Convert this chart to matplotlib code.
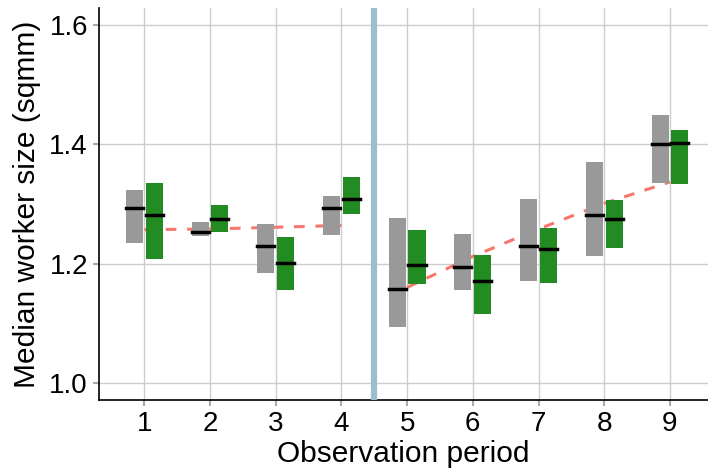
import matplotlib.pyplot as plt

# data
periods = [1, 2, 3, 4, 5, 6, 7, 8, 9]

# grey bars (first group): low, high, median
grey_low = [1.234, 1.246, 1.185, 1.248, 1.094, 1.155, 1.170, 1.212, 1.335]
grey_high = [1.324, 1.269, 1.267, 1.314, 1.277, 1.249, 1.308, 1.371, 1.450]
grey_med = [1.294, 1.253, 1.229, 1.293, 1.157, 1.194, 1.229, 1.282, 1.400]

# green bars (second group): low, high, median
green_low = [1.207, 1.253, 1.155, 1.283, 1.165, 1.115, 1.167, 1.226, 1.333]
green_high = [1.336, 1.299, 1.244, 1.345, 1.257, 1.215, 1.259, 1.306, 1.424]
green_med = [1.281, 1.274, 1.201, 1.309, 1.197, 1.170, 1.225, 1.274, 1.403]

# dashed trend lines before / after the break
trend1_x = [1, 2, 3, 4]
trend1_y = [1.257, 1.258, 1.261, 1.264]
trend2_x = [5, 6, 7, 8, 9]
trend2_y = [1.160, 1.212, 1.258, 1.301, 1.337]

break_x = 4.5

plt.rcParams['font.family'] = ['Liberation Sans', 'DejaVu Sans']

fig = plt.figure(figsize=(7.08, 4.72), dpi=100)
ax = fig.add_axes([99 / 708, 1 - 400 / 472, 1 - 99 / 708, (400 - 8) / 472])

ax.grid(True, color='#cccccc', linewidth=1.0, zorder=0)
ax.set_axisbelow(True)

ax.plot(trend1_x, trend1_y, linestyle=(0, (3.5, 3.5)), color='#F8766D', linewidth=2.2, zorder=1)
ax.plot(trend2_x, trend2_y, linestyle=(0, (3.5, 3.5)), color='#F8766D', linewidth=2.2, zorder=1)

w = 0.26
off = 0.15
for i, p in enumerate(periods):
    xg = p - off
    xn = p + off
    ax.bar(xg, grey_high[i] - grey_low[i], bottom=grey_low[i], width=w, color='#999999', zorder=2)
    ax.bar(xn, green_high[i] - green_low[i], bottom=green_low[i], width=w, color='#228B22', zorder=2)
    ax.plot([xg - w / 2, xg + w / 2], [grey_med[i]] * 2, color='black', linewidth=2.5, zorder=3)
    ax.plot([xn - w / 2, xn + w / 2], [green_med[i]] * 2, color='black', linewidth=2.5, zorder=3)

ax.axvline(break_x, color='#9AC0CD', linewidth=4.5, zorder=4)

ax.set_xlim(0.31, 9.58)
ax.set_ylim(0.971, 1.629)
ax.set_xticks(periods)
ax.set_yticks([1.0, 1.2, 1.4, 1.6])
ax.set_yticklabels(['1.0', '1.2', '1.4', '1.6'])

for s in ['top', 'right']:
    ax.spines[s].set_visible(False)
for s in ['left', 'bottom']:
    ax.spines[s].set_color('black')
    ax.spines[s].set_linewidth(1.2)

ax.tick_params(axis='both', colors='#aaaaaa', length=4, width=1.5, labelsize=20,
               labelcolor='black', pad=4)

ax.set_xlabel('Observation period', fontsize=21.5, labelpad=2)
ax.set_ylabel('Median worker size (sqmm)', fontsize=21.5, labelpad=6)

fig.savefig('out.png', dpi=100)
